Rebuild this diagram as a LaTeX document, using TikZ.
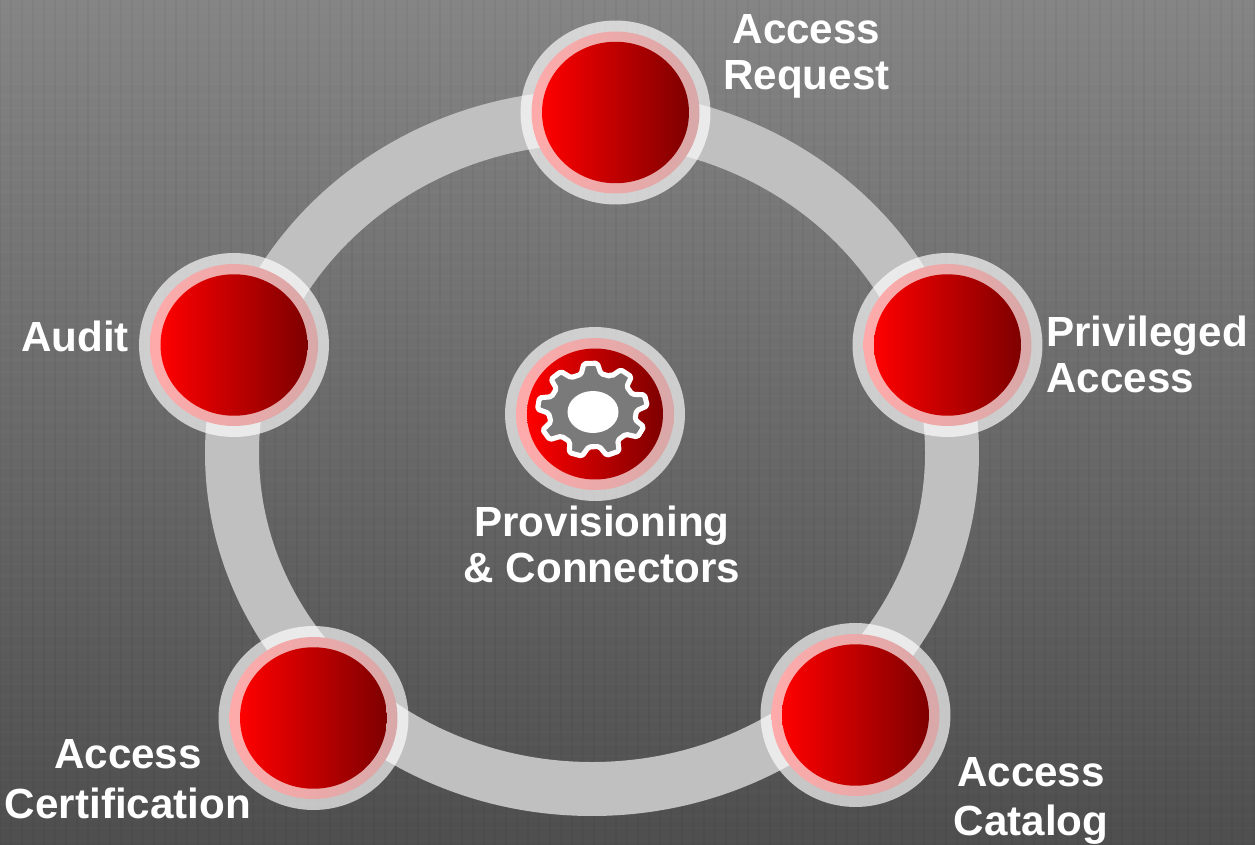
\documentclass[tikz,border=0pt]{standalone}
\usepackage{fontspec}
\setmainfont{Liberation Sans}
\usepackage{tikz}
\usetikzlibrary{shapes.geometric}
\tikzset{
  halo/.style={ellipse,inner sep=0pt,minimum width=3.8cm,minimum height=3.68cm,fill=white,fill opacity=0.67},
  rim/.style={ellipse,inner sep=0pt,minimum width=3.36cm,minimum height=3.24cm,left color=rimleft,right color=rimright},
  core/.style={ellipse,inner sep=0pt,minimum width=2.94cm,minimum height=2.83cm,left color=red,middle color=coremid,right color=coredark},
  caption/.style={text=white,align=center,inner sep=0pt,font=\fontsize{24}{26.3}\selectfont\bfseries},
  widecaption/.style={caption,font=\fontsize{24}{28.3}\selectfont\bfseries}
}
\definecolor{rimleft}{HTML}{FFAAAA}
\definecolor{rimright}{HTML}{D8A8A8}
\definecolor{coremid}{HTML}{CC0000}
\definecolor{coredark}{HTML}{7E0000}
\definecolor{bgtop}{HTML}{858585}
\definecolor{bgbottom}{HTML}{4E4E4E}
\definecolor{loopgray}{HTML}{C0C0C0}
\definecolor{geargray}{HTML}{7A7A7A}
\begin{document}
\begin{tikzpicture}[x=0.02cm,y=0.02cm]
\useasboundingbox (0,0) rectangle (1255,-845);
% backdrop
\fill [top color=bgtop,bottom color=bgbottom] (0,0) rectangle (1255,-845);
\foreach \x in {0,11,...,1254}
  \draw [black,opacity=0.035,line width=1.5pt] (\x,0) -- (\x,-845);
\foreach \y in {0,12,...,844}
  \draw [white,opacity=0.015,line width=1.5pt] (0,-\y) -- (1255,-\y);
% big loop
\draw [loopgray,line width=1.08cm] (592,-453) ellipse (360 and 336);
% outer stations
\foreach \name/\x/\y in {request/615.5/112.5,privileged/947.5/345,catalog/855.5/715,certification/313.5/718,audit/234/345} {
  \node [halo] (\name halo) at (\x,-\y) {};
  \node [rim] (\name rim) at (\x,-\y) {};
  \node [core] (\name) at (\x,-\y) {};
}
% centre station
\node [halo,minimum width=3.6cm,minimum height=3.48cm] (hub halo) at (595,-414) {};
\node [rim,minimum width=3.16cm,minimum height=3.04cm] (hub rim) at (595,-414) {};
\node [core,minimum width=2.72cm,minimum height=2.62cm] (hub) at (595,-414) {};
% gear
\begin{scope}[shift={(592.5,-410)}]
\draw [white,fill=geargray,line width=2.9pt,line join=round,rounded corners=1pt]
  (65:44 and 37)
  \foreach \a in {92,132,172,212,252,292,332,372,412} {
    -- ({\a-13}:44 and 37) -- ({\a-7}:55 and 47) -- ({\a+7}:55 and 47) -- ({\a+13}:44 and 37)
  } -- cycle;
\end{scope}
\fill [white] (593,-412) ellipse (25.5 and 21);
% labels
\node [caption] (request label) at (806.5,-56) {Access\\Request};
\node [caption,align=left,anchor=west] (privileged label) at (1046,-354.5) {Privileged\\Access};
\node [widecaption] (catalog label) at (1031,-801) {Access\\Catalog};
\node [widecaption] (certification label) at (128,-779.5) {Access\\Certification};
\node [caption] (audit label) at (75,-336) {Audit};
\node [caption] (hub label) at (602,-544.5) {Provisioning\\\& Connectors};
\end{tikzpicture}
\end{document}
